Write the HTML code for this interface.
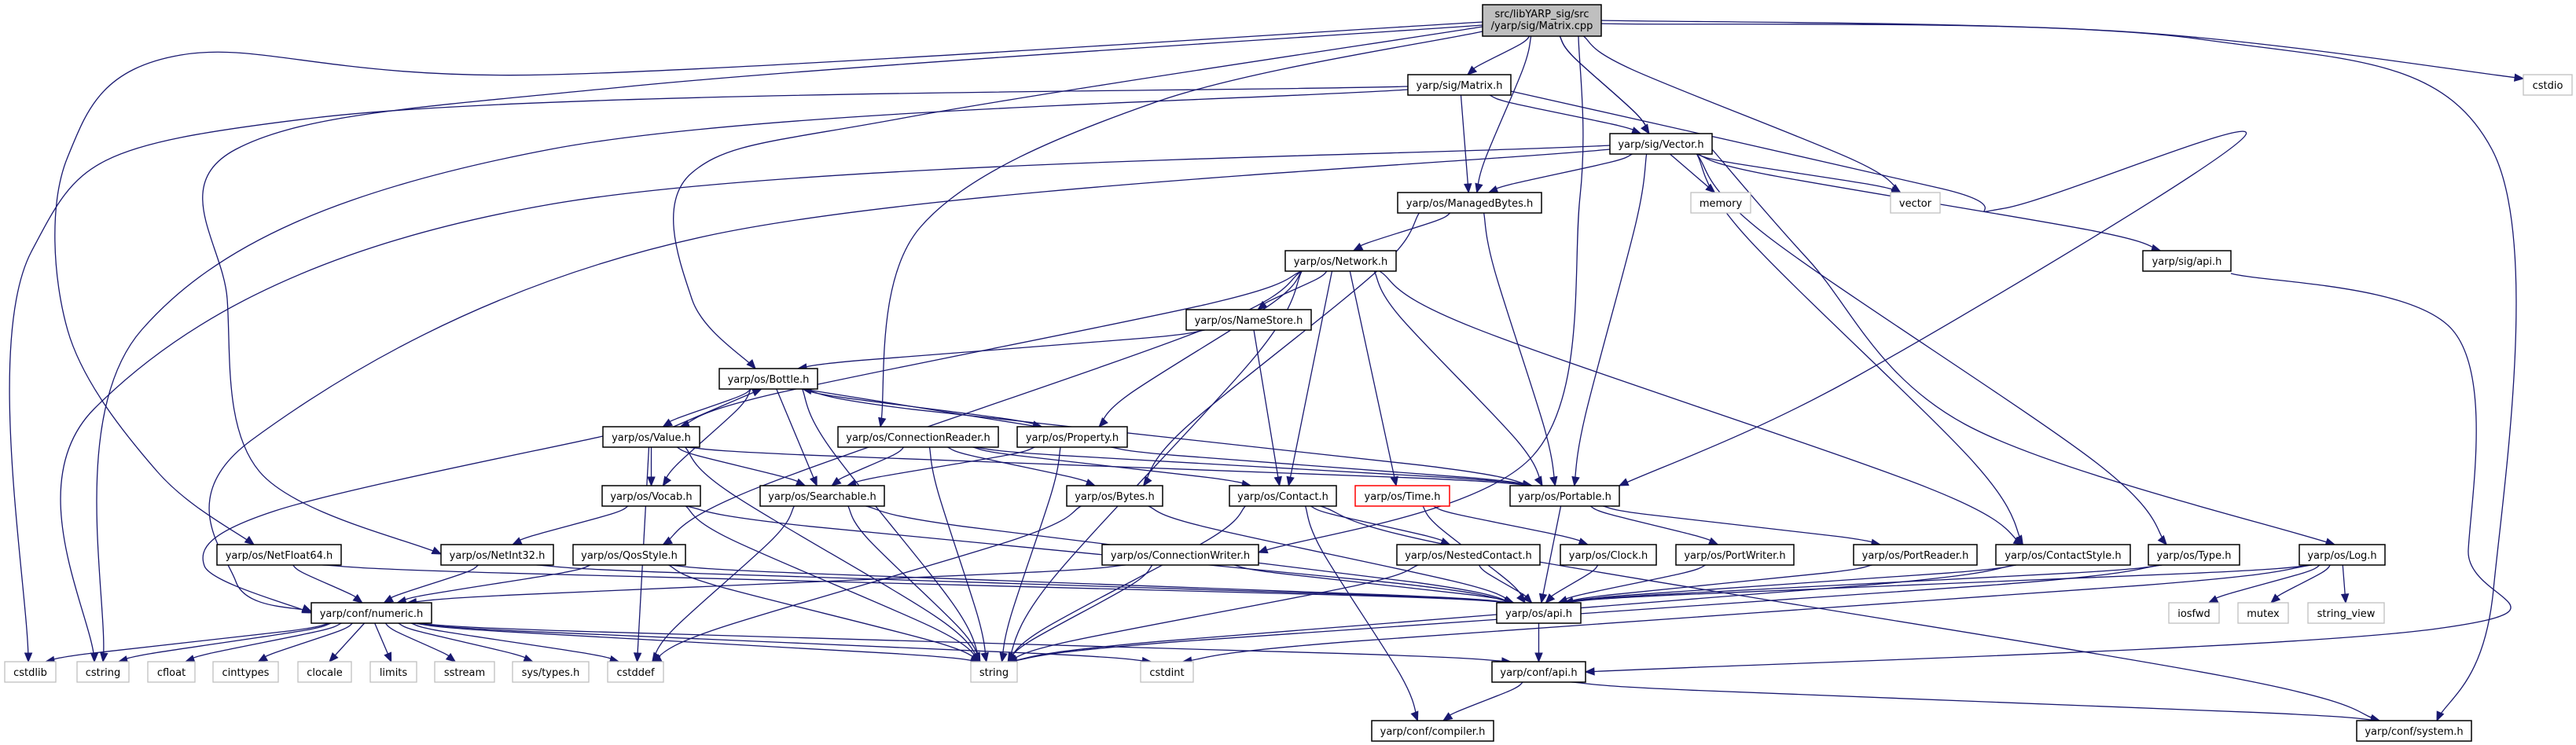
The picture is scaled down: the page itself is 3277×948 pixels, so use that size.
<!DOCTYPE html>
<html><head><meta charset="utf-8">
<style>
html,body{margin:0;padding:0;background:#fff;}
svg{display:block;}
text{font-family:"DejaVu Sans","Liberation Sans",sans-serif;font-size:13px;fill:#000;}
</style></head>
<body>
<svg id="g" width="3277" height="948" viewBox="0 0 3277 948" xmlns="http://www.w3.org/2000/svg">
<g id="edges"></g>
<g id="nodes"></g>
</svg>
<script>
const nodeIds = ["cpp","mh","vh","mb","mem","vec","cstdio","sigapi","net","ns","bottle","value","vocab","search","cr","prop","bytes","contact","time","portable","nf64","ni32","qos","cw","nc","clock","pw","pr","cs","type","log","numeric","osapi","iosfwd","mutex","sv","cstdlib","cstring","cfloat","cinttypes","clocale","limits","sstream","systypes","cstddef","string","cstdint","confapi","compiler","system"];
const nodeLabels = ["src/libYARP_sig/src\n/yarp/sig/Matrix.cpp","yarp/sig/Matrix.h","yarp/sig/Vector.h","yarp/os/ManagedBytes.h","memory","vector","cstdio","yarp/sig/api.h","yarp/os/Network.h","yarp/os/NameStore.h","yarp/os/Bottle.h","yarp/os/Value.h","yarp/os/Vocab.h","yarp/os/Searchable.h","yarp/os/ConnectionReader.h","yarp/os/Property.h","yarp/os/Bytes.h","yarp/os/Contact.h","yarp/os/Time.h","yarp/os/Portable.h","yarp/os/NetFloat64.h","yarp/os/NetInt32.h","yarp/os/QosStyle.h","yarp/os/ConnectionWriter.h","yarp/os/NestedContact.h","yarp/os/Clock.h","yarp/os/PortWriter.h","yarp/os/PortReader.h","yarp/os/ContactStyle.h","yarp/os/Type.h","yarp/os/Log.h","yarp/conf/numeric.h","yarp/os/api.h","iosfwd","mutex","string_view","cstdlib","cstring","cfloat","cinttypes","clocale","limits","sstream","sys/types.h","cstddef","string","cstdint","yarp/conf/api.h","yarp/conf/compiler.h","yarp/conf/system.h"];
const nodeX1 = [1886,1791,2048,1778,2151,2405,3210,2726,1635,1509,915,767,766,967,1066,1294,1357,1564,1724,1921,276,561,729,1402,1777,1985,2132,2358,2539,2733,2925,396,1904,2759,2847,2936,6,98,188,271,379,471,553,652,773,1235,1451,1898,1745,2998];
const nodeX2 = [2037,1922,2178,1961,2227,2468,3272,2838,1776,1668,1040,890,891,1125,1270,1434,1479,1700,1844,2060,434,704,872,1601,1959,2107,2282,2515,2710,2849,3034,549,2011,2823,2911,3033,71,164,248,354,447,530,629,749,844,1294,1518,2017,1900,3144];
const nodeY1 = [6,95,170,245,245,245,95,319,319,394,469,543,618,618,543,543,618,618,618,618,693,693,693,693,693,693,693,693,693,693,693,767,767,767,767,767,842,842,842,842,842,842,842,842,842,842,842,842,917,917];
const nodeKind = ["root","doc","doc","doc","sys","sys","sys","doc","doc","doc","doc","doc","doc","doc","doc","doc","doc","doc","red","doc","doc","doc","doc","doc","doc","doc","doc","doc","doc","doc","doc","doc","doc","sys","sys","sys","sys","sys","sys","sys","sys","sys","sys","sys","sys","sys","sys","doc","doc","doc"];

const edgeFrom = ["cpp","cpp","cpp","cpp","cpp","cpp","cpp","cpp","cpp","cpp","cpp","cpp",
"mh","mh","mh","mh","mh",
"vh","vh","vh","vh","vh","vh","vh","vh","vh","vh",
"mb","mb","mb",
"net","net","net","net","net","net","net","net","net",
"ns","ns",
"bottle","bottle","bottle","bottle","bottle","bottle",
"value","value","value","value","value","value","value",
"prop","prop","prop","prop",
"cr","cr","cr","cr","cr",
"vocab","vocab","vocab",
"search","search","search",
"bytes","bytes",
"contact","contact","contact","contact",
"time","time",
"portable","portable","portable",
"cw","cw","cw",
"nc","nc","clock","pw","pr","cs","cs","type","type",
"log","log","log","log","log",
"nf64","nf64","ni32","ni32","qos","qos","qos",
"numeric","numeric","numeric","numeric","numeric","numeric","numeric","numeric","numeric","numeric","numeric","numeric",
"osapi","confapi","confapi","sigapi"];
const edgeTo = ["mh","mb","vh","vec","cstdio","system","bottle","cr","cw","nf64","ni32","vh",
"vh","mb","cstdlib","cstring","portable",
"mb","mem","vec","sigapi","portable","cstring","numeric","log","type","cs",
"net","portable","bytes",
"ns","value","qos","prop","contact","time","portable","cs","string",
"bottle","contact",
"value","vocab","search","string","portable","prop",
"bottle","vocab","search","numeric","cstddef","string","portable",
"bottle","search","string","portable",
"search","bytes","contact","string","portable",
"ni32","string","osapi",
"cstddef","string","osapi",
"cstddef","osapi",
"string","nc","compiler","system",
"clock","osapi",
"pw","pr","osapi",
"numeric","string","osapi",
"string","osapi","osapi","osapi","osapi","osapi","string","osapi","string",
"osapi","iosfwd","mutex","sv","cstdint",
"numeric","osapi","numeric","osapi","numeric","osapi","string",
"cstdlib","cstring","cfloat","cinttypes","clocale","limits","sstream","systypes","cstddef","string","cstdint","confapi",
"confapi","compiler","system","confapi"];
const viaKeys = ["cpp>nf64","cpp>ni32","cpp>bottle","mh>cstdlib","mh>cstring","vh>cstring","vh>numeric","cpp>cw","cpp>system","cpp>cstdio","mh>portable","cpp>cr","sigapi>confapi","value>numeric","vh>log"];
const viaPts = [
 [[1886,28],[700,95],[230,70],[86,200],[86,420],[200,600],[323,693]],
 [[1886,32],[800,110],[300,190],[289,380],[330,600],[561,705]],
 [[1886,34],[1150,150],[880,220],[880,380],[961,469]],
 [[1791,110],[400,150],[40,320],[36,842]],
 [[1791,114],[700,190],[180,420],[131,842]],
 [[2048,185],[700,260],[120,520],[120,842]],
 [[2048,190],[900,300],[320,560],[300,740],[396,778]],
 [[2008,46],[2010,250],[1950,580],[1601,703]],
 [[2037,30],[2800,50],[3170,190],[3172,750],[3100,917]],
 [[2037,26],[2700,40],[3210,100]],
 [[1922,116],[2470,240],[2550,265],[2855,174],[2360,480],[2060,618]],
 [[1886,40],[1470,130],[1170,290],[1120,543]],
 [[2838,348],[3120,420],[3140,700],[3100,800],[2017,855]],
 [[767,555],[350,650],[260,720],[396,780]],
 [[2178,190],[2300,330],[2500,540],[2970,693]]
];

const NS="http://www.w3.org/2000/svg";
const nodeMap={};
for(let i=0;i<nodeIds.length;i++){
  const h = nodeKind[i]==="root"?40:26;
  nodeMap[nodeIds[i]]={x1:nodeX1[i],x2:nodeX2[i],y1:nodeY1[i],y2:nodeY1[i]+h};
}
const eg=document.getElementById('edges');
const ng=document.getElementById('nodes');

function smooth(pts){
  let d="M"+pts[0][0]+","+pts[0][1];
  for(let i=0;i<pts.length-1;i++){
    const p0=pts[Math.max(0,i-1)],p1=pts[i],p2=pts[i+1],p3=pts[Math.min(pts.length-1,i+2)];
    const c1=[p1[0]+(p2[0]-p0[0])/6,p1[1]+(p2[1]-p0[1])/6];
    const c2=[p2[0]-(p3[0]-p1[0])/6,p2[1]-(p3[1]-p1[1])/6];
    d+=" C"+c1[0].toFixed(1)+","+c1[1].toFixed(1)+" "+c2[0].toFixed(1)+","+c2[1].toFixed(1)+" "+p2[0]+","+p2[1];
  }
  return d;
}
function arrow(tip,from,name){
  const dx=tip[0]-from[0],dy=tip[1]-from[1],L=Math.hypot(dx,dy)||1;
  const ux=dx/L,uy=dy/L,len=11,w=4.5;
  const bx=tip[0]-ux*len,by=tip[1]-uy*len;
  const p=document.createElementNS(NS,'polygon');
  p.setAttribute('points',tip[0]+","+tip[1]+" "+(bx-uy*w)+","+(by+ux*w)+" "+(bx+uy*w)+","+(by-ux*w));
  p.setAttribute('fill','#191970');p.setAttribute('stroke','#191970');
  
  
  eg.appendChild(p);
}
for(let i=0;i<edgeFrom.length;i++){
  const s=nodeMap[edgeFrom[i]],t=nodeMap[edgeTo[i]];
  const key=edgeFrom[i]+">"+edgeTo[i];
  const vi=viaKeys.indexOf(key);
  let pts;
  if(vi>=0){pts=viaPts[vi];}
  else{
    const scx=(s.x1+s.x2)/2,tcx=(t.x1+t.x2)/2;
    const sw=(s.x2-s.x1)/2,tw=(t.x2-t.x1)/2;
    let sx=scx+Math.max(-sw*0.7,Math.min(sw*0.7,(tcx-scx)*0.15));
    let tx=tcx+Math.max(-tw*0.6,Math.min(tw*0.6,(scx-tcx)*0.1));
    if(t.y1>=s.y2){
      const sy=s.y2,ty=t.y1;
      const m=(ty-sy)*0.35;
      pts=[[sx,sy],[sx+(tx-sx)*0.15,sy+m*0.6],[tx-(tx-sx)*0.15,ty-m*0.6],[tx,ty]];
      if(Math.abs(tx-sx)<60) pts=[[sx,sy],[tx,ty]];
    } else if(t.y2<=s.y1){
      const sy=s.y1,ty=t.y2;
      pts=[[sx+6,sy],[tx+6,ty]];
    } else {
      const sy=(s.y1+s.y2)/2,ty=(t.y1+t.y2)/2;
      pts= tcx>scx?[[s.x2,sy],[t.x1,ty]]:[[s.x1,sy],[t.x2,ty]];
    }
  }
  const p=document.createElementNS(NS,'path');
  p.setAttribute('d',smooth(pts));
  p.setAttribute('fill','none');p.setAttribute('stroke','#191970');p.setAttribute('stroke-width','1.3');
  
  
  eg.appendChild(p);
  arrow(pts[pts.length-1],pts[pts.length-2],'edge-'+edgeFrom[i]+'-to-'+edgeTo[i]);
}
for(let i=0;i<nodeIds.length;i++){
  const n=nodeMap[nodeIds[i]],k=nodeKind[i];
  const g=document.createElementNS(NS,'g');
  
  
  const r=document.createElementNS(NS,'rect');
  r.setAttribute('x',n.x1);r.setAttribute('y',n.y1);
  r.setAttribute('width',n.x2-n.x1);r.setAttribute('height',n.y2-n.y1);
  r.setAttribute('fill',k==="root"?"#bfbfbf":"#ffffff");
  r.setAttribute('stroke',k==="sys"?"#bfbfbf":(k==="red"?"#ff0000":"#000000"));
  r.setAttribute('stroke-width',k==="sys"?"1.3":"1.5");
  g.appendChild(r);
  const lines=nodeLabels[i].split("\n");
  const cx=(n.x1+n.x2)/2;
  for(let j=0;j<lines.length;j++){
    const t=document.createElementNS(NS,'text');
    t.setAttribute('x',cx);
    t.setAttribute('y',lines.length===1?n.y1+18:n.y1+16+j*15);
    t.setAttribute('text-anchor','middle');
    t.textContent=lines[j];
    g.appendChild(t);
  }
  ng.appendChild(g);
}
</script>
</body></html>
